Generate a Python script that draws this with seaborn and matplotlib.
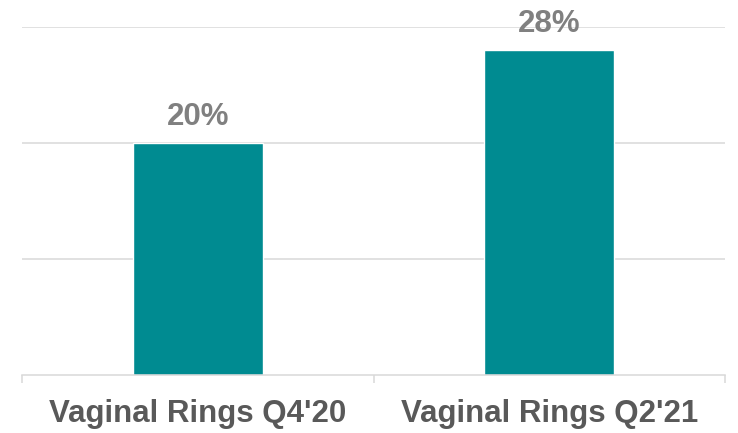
import numpy as np
import pandas as pd
import matplotlib.pyplot as plt
import seaborn as sns

sns.set_style("white")
plt.rcParams["font.family"] = ["Liberation Sans", "DejaVu Sans"]

categories = ["Vaginal Rings Q4'20", "Vaginal Rings Q2'21"]
values = [20, 28]
labels = ["20%", "28%"]

df = pd.DataFrame({"Category": categories, "Share": values})

fig = plt.figure(figsize=(7.38, 4.33), dpi=100)
ax = fig.add_axes([22 / 738, 1 - 375 / 433, 703 / 738, 348 / 433])

sns.barplot(data=df, x="Category", y="Share", color="#008B91", width=0.37,
            saturation=1, ax=ax, zorder=2)

ax.set_ylim(0, 30)
ax.set_xlim(-0.5, 1.5)
ax.set_yticks([10, 20, 30])
ax.yaxis.grid(True, color="#D9D9D9", linewidth=1.1, zorder=0)
ax.set_axisbelow(True)
ax.tick_params(axis="y", left=False, labelleft=False)
ax.set_xlabel("")
ax.set_ylabel("")

for s in ["top", "right", "left"]:
    ax.spines[s].set_visible(False)
ax.spines["bottom"].set_color("#D9D9D9")
ax.spines["bottom"].set_linewidth(1.1)

# category boundary ticks, Excel style
ax.set_xticks([-0.5, 0.5, 1.5], minor=True)
ax.tick_params(axis="x", which="minor", bottom=True, length=6,
               color="#D9D9D9", width=1.1)
ax.tick_params(axis="x", which="major", length=0, pad=17, labelsize=22.5,
               labelcolor="#595959")
for t in ax.get_xticklabels():
    t.set_fontweight("bold")

for i, (v, lab) in enumerate(zip(values, labels)):
    ax.annotate(lab, (i, v), xytext=(0, 13), textcoords="offset points",
                ha="center", va="baseline", fontsize=22.5, fontweight="bold",
                color="#808080", annotation_clip=False, zorder=3)

fig.savefig("out.png", dpi=100)
